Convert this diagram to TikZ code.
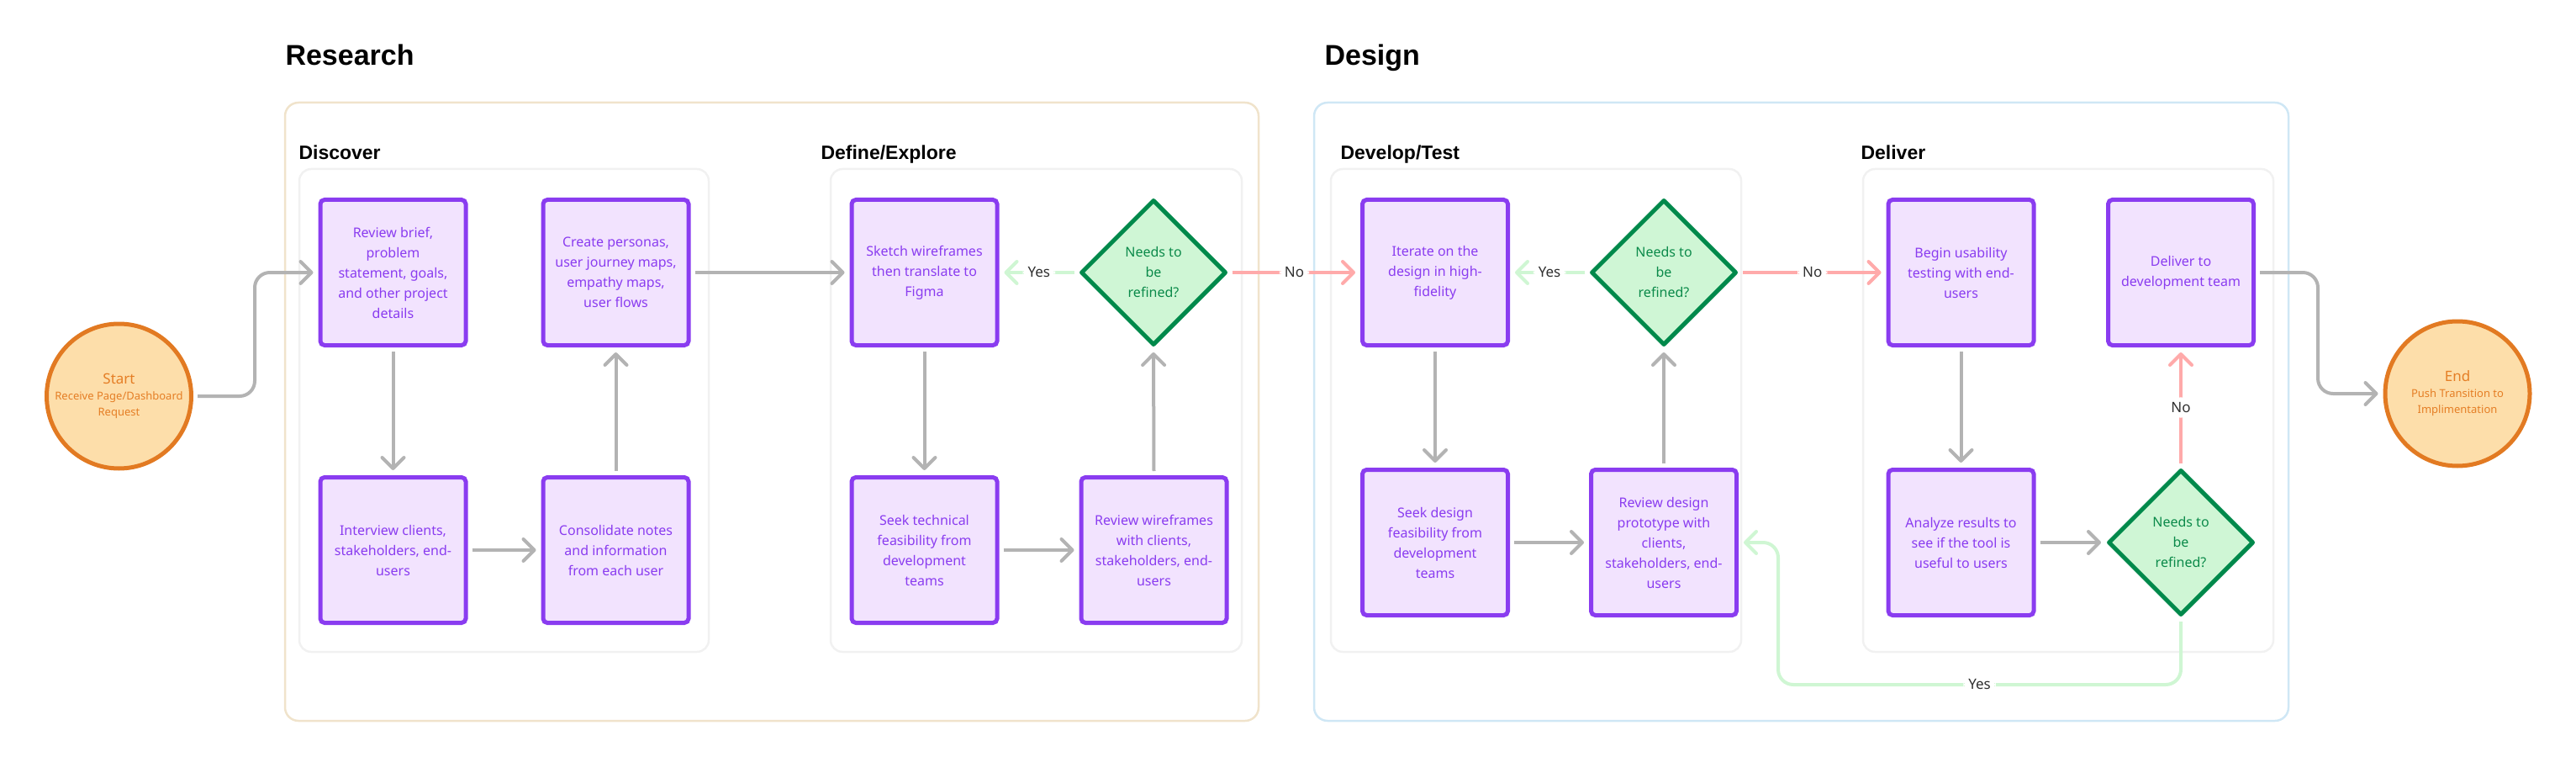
\documentclass[tikz,border=0pt]{standalone}
\usepackage{fontspec}
\setmainfont{Noto Sans}
\newfontfamily\headfont{Liberation Sans}
\usetikzlibrary{shapes.geometric,arrows.meta}

\newlength{\du}
\setlength{\du}{10\unitlength}

\begin{document}
\begin{tikzpicture}[
  stepbox/.style={draw=stepline, fill=stepfill, text=stepline, line width=0.5\du,
    rounded corners=0.5\du, minimum width=17.3\du, minimum height=17.3\du,
    inner sep=0pt, align=center, font=\fontsize{16}{24}\selectfont},
  askbox/.style={diamond, draw=askline, fill=askfill, text=asktext, line width=0.5\du,
    line join=round, minimum width=17.3\du, minimum height=17.3\du,
    inner sep=0pt, align=center, font=\fontsize{16}{24}\selectfont},
  endpoint/.style={circle, draw=endline, fill=endfill, text=endtext, line width=0.5\du,
    minimum size=17.2\du, inner sep=0pt, align=center, font=\fontsize{13}{19}\selectfont},
  flow/.style={draw=flowgray, line width=0.4\du, rounded corners=1.8\du,
    -{Straight Barb[length=13pt,width=26pt,round]}, shorten <=0.5\du, shorten >=0.6\du},
  yesflow/.style={flow, draw=yesgreen},
  noflow/.style={flow, draw=nored},
  answer/.style={fill=white, text=answertext, inner sep=0.6\du, font=\fontsize{17}{20}\selectfont},
  stagetitle/.style={anchor=base west, font=\headfont\bfseries\fontsize{34}{40}\selectfont},
  phasetitle/.style={anchor=base west, font=\headfont\bfseries\fontsize{23}{28}\selectfont},
  researchframe/.style={draw=researchline, line width=0.25\du, rounded corners=1.6\du},
  designframe/.style={draw=designline, line width=0.25\du, rounded corners=1.6\du},
  phaseframe/.style={draw=phaseline, line width=0.25\du, rounded corners=1.4\du}
]
\pgftransformxscale{1.000000}
\pgftransformyscale{-1.000000}
\definecolor{stepline}{rgb}{0.541, 0.235, 0.941}
\definecolor{stepfill}{rgb}{0.949, 0.890, 0.996}
\definecolor{askline}{rgb}{0.000, 0.537, 0.294}
\definecolor{askfill}{rgb}{0.812, 0.965, 0.835}
\definecolor{asktext}{rgb}{0.043, 0.541, 0.290}
\definecolor{endline}{rgb}{0.886, 0.478, 0.133}
\definecolor{endfill}{rgb}{0.992, 0.871, 0.667}
\definecolor{endtext}{rgb}{0.898, 0.494, 0.145}
\definecolor{flowgray}{rgb}{0.702, 0.702, 0.702}
\definecolor{yesgreen}{rgb}{0.812, 0.965, 0.827}
\definecolor{nored}{rgb}{1.000, 0.667, 0.667}
\definecolor{answertext}{rgb}{0.190, 0.190, 0.190}
\definecolor{researchline}{rgb}{0.941, 0.890, 0.796}
\definecolor{designline}{rgb}{0.812, 0.906, 0.961}
\definecolor{phaseline}{rgb}{0.945, 0.945, 0.945}
\useasboundingbox (0\du,0\du) rectangle (306.4\du,92.5\du);

% frames
\draw[researchframe] (33.9\du,12.2\du) rectangle (149.7\du,85.7\du);
\draw[designframe] (156.3\du,12.2\du) rectangle (272.2\du,85.7\du);
\draw[phaseframe] (35.6\du,20.1\du) rectangle (84.3\du,77.5\du);
\draw[phaseframe] (98.8\du,20.1\du) rectangle (147.7\du,77.5\du);
\draw[phaseframe] (158.3\du,20.1\du) rectangle (207.1\du,77.5\du);
\draw[phaseframe] (221.6\du,20.1\du) rectangle (270.4\du,77.5\du);
\node[stagetitle] (research) at (33.6\du,7.8\du){Research};
\node[stagetitle] (design) at (157.2\du,7.8\du){Design};
\node[phasetitle] (discover) at (35.2\du,19.0\du){Discover};
\node[phasetitle] (define) at (97.3\du,19.0\du){Define/Explore};
\node[phasetitle] (develop) at (159.1\du,19.0\du){Develop/Test};
\node[phasetitle] (deliver) at (221.0\du,19.0\du){Deliver};

% start and end
\node[endpoint] (start) at (14.15\du,47.1\du){{\fontsize{17}{19}\selectfont Start}\\Receive Page/Dashboard\\Request};
\node[endpoint] (end) at (292.3\du,46.8\du){{\fontsize{17}{19}\selectfont End}\\Push Transition to\\Implimentation};

% discover
\node[stepbox] (brief) at (46.75\du,32.4\du){Review brief,\\problem\\statement, goals,\\and other project\\details};
\node[stepbox] (personas) at (73.25\du,32.4\du){Create personas,\\user journey maps,\\empathy maps,\\user flows};
\node[stepbox] (interview) at (46.75\du,65.4\du){Interview clients,\\stakeholders, end-\\users};
\node[stepbox] (consolidate) at (73.25\du,65.4\du){Consolidate notes\\and information\\from each user};

% define/explore
\node[stepbox] (sketch) at (109.95\du,32.4\du){Sketch wireframes\\then translate to\\Figma};
\node[askbox] (askwire) at (137.2\du,32.4\du){Needs to\\be\\refined?};
\node[stepbox] (techfeas) at (109.95\du,65.4\du){Seek technical\\feasibility from\\development\\teams};
\node[stepbox] (reviewwire) at (137.25\du,65.4\du){Review wireframes\\with clients,\\stakeholders, end-\\users};

% develop/test
\node[stepbox] (iterate) at (170.7\du,32.4\du){Iterate on the\\design in high-\\fidelity};
\node[askbox] (askproto) at (197.9\du,32.4\du){Needs to\\be\\refined?};
\node[stepbox] (designfeas) at (170.7\du,64.5\du){Seek design\\feasibility from\\development\\teams};
\node[stepbox] (reviewproto) at (197.9\du,64.5\du){Review design\\prototype with\\clients,\\stakeholders, end-\\users};

% deliver
\node[stepbox] (usability) at (233.25\du,32.4\du){Begin usability\\testing with end-\\users};
\node[stepbox] (handoff) at (259.4\du,32.4\du){Deliver to\\development team};
\node[stepbox] (analyze) at (233.25\du,64.5\du){Analyze results to\\see if the tool is\\useful to users};
\node[askbox] (asktool) at (259.4\du,64.5\du){Needs to\\be\\refined?};

\coordinate (startbend) at (30.3\du,47.1\du);
\coordinate (endbend) at (275.7\du,32.4\du);
\coordinate (yesbend) at (211.5\du,81.4\du);

% connectors
\draw[flow] (start.east) -- (startbend) |- (brief.west);
\draw[flow] (brief.south) -- (interview.north);
\draw[flow] (interview.east) -- (consolidate.west);
\draw[flow] (consolidate.north) -- (personas.south);
\draw[flow] (personas.east) -- (sketch.west);
\draw[flow] (sketch.south) -- (techfeas.north);
\draw[flow] (techfeas.east) -- (reviewwire.west);
\draw[flow] (reviewwire.north) -- (askwire.south);
\draw[yesflow] (askwire.west) -- node[answer] (yeswire) {Yes} (sketch.east);
\draw[noflow] (askwire.east) -- node[answer] (nowire) {No} (iterate.west);
\draw[flow] (iterate.south) -- (designfeas.north);
\draw[flow] (designfeas.east) -- (reviewproto.west);
\draw[flow] (reviewproto.north) -- (askproto.south);
\draw[yesflow] (askproto.west) -- node[answer] (yesproto) {Yes} (iterate.east);
\draw[noflow] (askproto.east) -- node[answer] (noproto) {No} (usability.west);
\draw[flow] (usability.south) -- (analyze.north);
\draw[flow] (analyze.east) -- (asktool.west);
\draw[noflow] (asktool.north) -- node[answer] (notool) {No} (handoff.south);
\draw[yesflow] (asktool.south) |- node[answer,pos=0.75] (yestool) {Yes} (yesbend) |- (reviewproto.east);
\draw[flow] (handoff.east) -- (endbend) |- (end.west);
\end{tikzpicture}
\end{document}
